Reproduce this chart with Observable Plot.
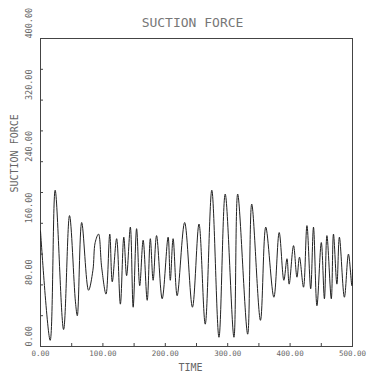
<!DOCTYPE html>
<html><head><meta charset="utf-8">
<script src="https://cdn.jsdelivr.net/npm/d3@7"></script>
<script src="https://cdn.jsdelivr.net/npm/@observablehq/plot@0.6"></script>
<style>
body{margin:0;background:#fff}
g[aria-label="title"] text{letter-spacing:2.6px}
g[aria-label="ylabel"] text{letter-spacing:2.4px}
g[aria-label="xlabel"] text{letter-spacing:2px}
</style>
</head><body><div id="chart"></div>
<script>
const time = [0, 15.5, 23.5, 37, 46.5, 56, 59, 66, 77, 84, 87.6, 93, 98, 105, 111, 115, 122, 128, 133.5, 138, 144, 148.5, 154, 159, 164.5, 171, 176, 180.5, 186, 195, 204.5, 208, 212.5, 219, 231, 243.5, 254, 264, 274.5, 286, 296, 310, 316, 332, 338.5, 352.5, 361, 374, 382.5, 390, 395, 398.5, 405.5, 411, 415, 421.5, 427, 433, 437.5, 443, 450, 455, 459, 466, 469.5, 475, 479, 487, 493.5, 499, 500];
const force = [150, 8, 203, 22, 170, 58, 40, 161, 73, 99, 135, 146, 103, 68, 146, 84, 140, 55, 142, 92, 155, 51, 153, 79, 138, 60, 140, 86, 144, 62, 142, 86, 140, 66, 161, 51, 159, 29, 203, 12, 198, 12, 198, 16, 185, 34, 155, 64, 148, 86, 114, 81, 131, 90, 116, 77, 157, 75, 155, 53, 135, 62, 144, 62, 146, 81, 142, 64, 120, 79, 100];
const yTicks = [0, 80, 160, 240, 320, 400];
const yMinor = [0, 40, 80, 120, 160, 200, 240, 280, 320, 360, 400];
const xTicks = [0, 100, 200, 300, 400, 500];
const xMinor = [0, 50, 100, 150, 200, 250, 300, 350, 400, 450, 500];
const title = "SUCTION FORCE";
const xLabel = "TIME";
const yLabel = "SUCTION FORCE";

const data = time.map((t, i) => ({t, v: force[i]}));
const fmt = d3.format(".2f");
const ink = "#444";
const soft = "#666";

const chart = Plot.plot({
  width: 375, height: 382,
  marginLeft: 40, marginRight: 23, marginTop: 38, marginBottom: 36,
  x: {domain: [0, 500]},
  y: {domain: [0, 400]},
  style: {fontFamily: "DejaVu Sans Mono", background: "#fff", color: ink},
  marks: [
    Plot.frame({stroke: ink, strokeWidth: 1}),
    Plot.axisY(yMinor, {tickSize: -3, fill: "none", label: null, stroke: ink}),
    Plot.axisX(xMinor, {tickSize: -3, fill: "none", label: null, stroke: ink}),
    Plot.axisX(xTicks, {tickSize: 0, tickPadding: 4, tickFormat: fmt, label: null, fontSize: 7.5, fill: soft}),
    Plot.text(yTicks, {y: d => d, text: d => fmt(d), frameAnchor: "left", rotate: -90, textAnchor: "start", dx: -11, fontSize: 8.5, fill: soft}),
    Plot.line(data, {x: "t", y: "v", stroke: "#222", strokeWidth: 1, curve: "catmull-rom"}),
    Plot.text([title], {frameAnchor: "top", dy: -21, dx: -4, fontSize: 13, fill: "#777", ariaLabel: "title"}),
    Plot.text([yLabel], {frameAnchor: "left", rotate: -90, dx: -26, fontSize: 10, fill: "#666", ariaLabel: "ylabel"}),
    Plot.text([xLabel], {frameAnchor: "bottom", dy: 24, dx: -6, fontSize: 10, fill: "#666", ariaLabel: "xlabel"})
  ]
});
document.getElementById("chart").appendChild(chart);
</script>
</body></html>
